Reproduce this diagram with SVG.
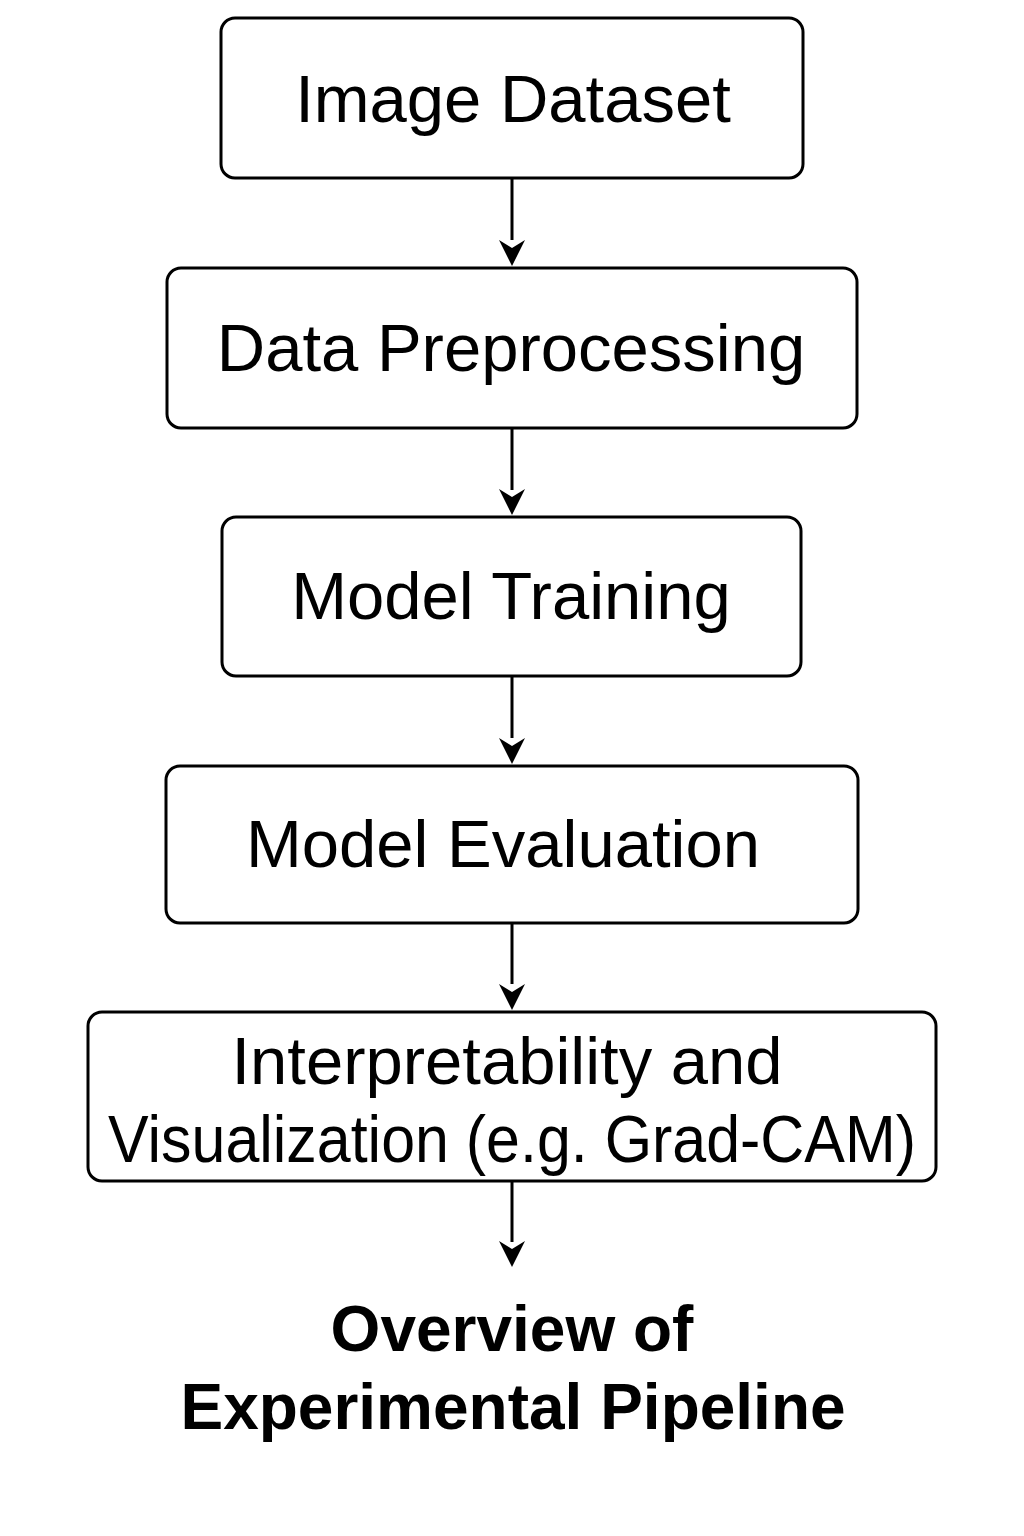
<svg xmlns="http://www.w3.org/2000/svg" width="1024" height="1536" viewBox="0 0 1024 1536">
<style>
.box{fill:#fff;stroke:#000;stroke-width:3}
.t{font-family:"Liberation Sans",Arial,sans-serif;font-size:67px;fill:#000;text-anchor:middle}
.title{font-family:"Liberation Sans",Arial,sans-serif;font-size:64px;font-weight:bold;fill:#000;text-anchor:middle}
.c{stroke:#000;stroke-width:3;fill:none}
</style>
<rect width="1024" height="1536" fill="#fff"/>
<g id="n1"><rect class="box" x="221" y="18" width="582" height="160" rx="14"/><text class="t" x="513" y="122">Image Dataset</text></g>
<g id="n2"><rect class="box" x="167" y="268" width="690" height="160" rx="14"/><text class="t" x="511" y="371">Data Preprocessing</text></g>
<g id="n3"><rect class="box" x="222" y="517" width="579" height="159" rx="14"/><text class="t" x="511" y="619">Model Training</text></g>
<g id="n4"><rect class="box" x="166" y="766" width="692" height="157" rx="14"/><text class="t" x="503" y="867">Model Evaluation</text></g>
<g id="n5"><rect class="box" x="88" y="1012" width="848" height="169" rx="14"/><text class="t" x="507" y="1084">Interpretability and</text><text class="t" x="512" y="1162" textLength="808" lengthAdjust="spacingAndGlyphs">Visualization (e.g. Grad-CAM)</text></g>
<g id="connectors">
<path class="c" d="M512,178 V240"/>
<path d="M499,240 L512,248 L525,240 L512,266 Z"/>
<path class="c" d="M512,428 V490"/>
<path d="M499,489 L512,497 L525,489 L512,515 Z"/>
<path class="c" d="M512,676 V738"/>
<path d="M499,738 L512,746 L525,738 L512,764 Z"/>
<path class="c" d="M512,923 V984"/>
<path d="M499,984 L512,992 L525,984 L512,1010 Z"/>
<path class="c" d="M512,1181 V1242"/>
<path d="M499,1241 L512,1249 L525,1241 L512,1267 Z"/>
</g>
<g id="title"><text class="title" x="512" y="1351">Overview of</text><text class="title" x="513" y="1429">Experimental Pipeline</text></g>
</svg>
